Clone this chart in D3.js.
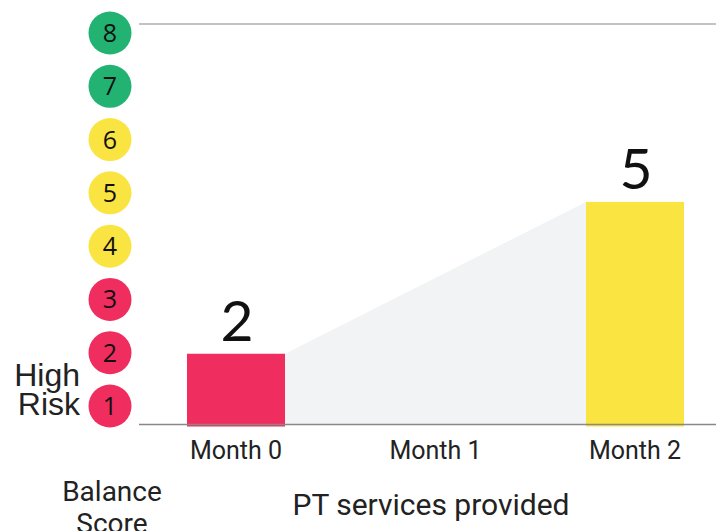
<!DOCTYPE html>
<html>
<head>
<meta charset="utf-8">
<script src="https://cdn.jsdelivr.net/npm/d3@7"></script>
<style>
  html, body { margin: 0; padding: 0; background: #fff; }
  svg { display: block; }
</style>
</head>
<body>
<div id="chart"></div>
<script>
// data
var months = ["Month 0", "Month 1", "Month 2"];
var scores = [2, null, 5];
var scaleLevels = [1, 2, 3, 4, 5, 6, 7, 8];
var levelColours = ["#ef2d5e", "#ef2d5e", "#ef2d5e", "#fae442", "#fae442", "#fae442", "#22b373", "#22b373"];
var barColours = ["#ef2d5e", null, "#fae442"];

var width = 716, height = 531;
var plotLeft = 139, plotRight = 716, plotTop = 24, baseline = 424.5;

var svg = d3.select("#chart").append("svg")
       .attr("width", width)
       .attr("height", height);

// scales
var x = d3.scalePoint().domain(months).range([236, 635]);
var barW = 98;
var y = d3.scaleLinear().domain([0, 8]).range([455, 50]);
var yCircle = d3.scaleLinear().domain([1, 8]).range([406, 33]);

// grey trend area between the two measured bars
var measured = months.map((m, i) => ({ m: m, v: scores[i], c: barColours[i] }))
       .filter(d => d.v != null);
var a = measured[0], b = measured[measured.length - 1];
var area = [
       [x(a.m) + barW / 2, y(a.v)],
       [x(b.m) - barW / 2, y(b.v)],
       [x(b.m) - barW / 2, baseline],
       [x(a.m) + barW / 2, baseline]
];
svg.append("path")
       .attr("d", d3.line()(area) + "Z")
       .style("fill", "#f2f3f5");

// top line
svg.append("line")
       .attr("x1", plotLeft).attr("x2", plotRight)
       .attr("y1", plotTop).attr("y2", plotTop)
       .style("stroke", "#888").style("stroke-width", 1.2);

// bars
svg.selectAll("rect.bar")
       .data(measured)
       .enter()
       .append("rect")
       .attr("class", "bar")
       .attr("x", d => x(d.m) - barW / 2)
       .attr("y", d => y(d.v))
       .attr("width", barW)
       .attr("height", d => baseline + 2 - y(d.v))
       .style("fill", d => d.c);

// baseline
svg.append("line")
       .attr("x1", plotLeft).attr("x2", plotRight)
       .attr("y1", baseline).attr("y2", baseline)
       .style("stroke", "#888").style("stroke-width", 1.5);

// value labels
svg.selectAll("text.val")
       .data(measured)
       .enter()
       .append("text")
       .attr("class", "val")
       .attr("x", d => x(d.m) + 1)
       .attr("y", d => y(d.v) - 13)
       .attr("text-anchor", "middle")
       .style("font-family", "Lato, 'Open Sans', sans-serif")
       .style("font-weight", 400)
       .style("font-size", "57px")
       .style("fill", "#111")
       .text(d => d.v);

// month labels
svg.selectAll("text.month")
       .data(months)
       .enter()
       .append("text")
       .attr("class", "month")
       .attr("x", d => x(d))
       .attr("y", 459)
       .attr("text-anchor", "middle")
       .style("font-family", "Roboto, sans-serif")
       .style("font-size", "25px")
       .style("fill", "#222")
       .text(d => d);

// score circles
var circ = svg.selectAll("g.level")
       .data(scaleLevels)
       .enter()
       .append("g")
       .attr("class", "level")
       .attr("transform", d => "translate(110," + yCircle(d) + ")");
circ.append("circle")
       .attr("r", 21.5)
       .style("fill", (d, i) => levelColours[i]);
circ.append("text")
       .attr("y", 9)
       .attr("text-anchor", "middle")
       .style("font-family", "'Open Sans', sans-serif")
       .style("font-size", "25px")
       .style("fill", "#111")
       .text(d => d);

// side labels
var risk = svg.append("text")
       .attr("text-anchor", "end")
       .style("font-family", "'Liberation Sans', Arial, sans-serif")
       .style("font-size", "32px")
       .style("fill", "#222");
risk.append("tspan").attr("x", 80).attr("y", 386).text("High");
risk.append("tspan").attr("x", 80).attr("y", 415).text("Risk");

var bal = svg.append("text")
       .attr("text-anchor", "middle")
       .style("font-family", "Roboto, sans-serif")
       .style("font-size", "28px")
       .style("fill", "#222");
bal.append("tspan").attr("x", 112).attr("y", 501).text("Balance");
bal.append("tspan").attr("x", 112).attr("y", 533).text("Score");

svg.append("text")
       .attr("x", 431)
       .attr("y", 515)
       .attr("text-anchor", "middle")
       .style("font-family", "Roboto, sans-serif")
       .style("font-size", "30px")
       .style("fill", "#222")
       .text("PT services provided");
</script>
</body>
</html>
